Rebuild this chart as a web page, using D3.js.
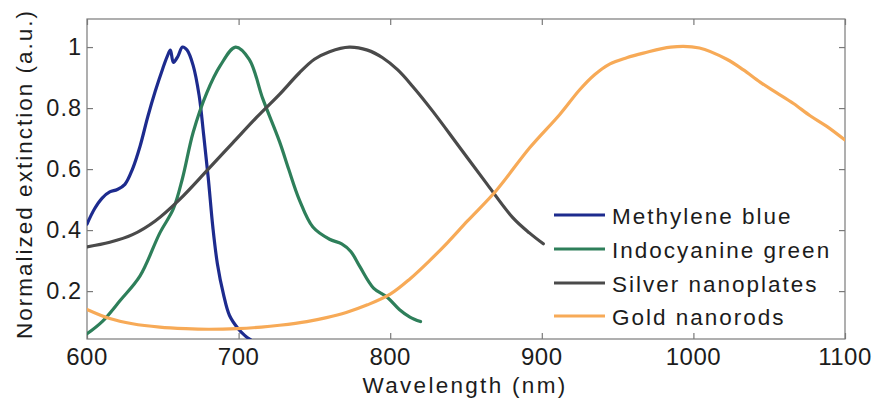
<!DOCTYPE html>
<html>
<head>
<meta charset="utf-8">
<script src="https://cdn.jsdelivr.net/npm/d3@7"></script>
<style>
  html, body { margin: 0; padding: 0; background: #fff; }
  svg text { font-family: "Liberation Sans", Arial, sans-serif; fill: #1c1c1c; }
</style>
</head>
<body>
<svg id="chart" width="877" height="400"></svg>
<script>
// Normalized extinction spectra: [wavelength (nm), extinction (a.u.)]
const methyleneBlue = [
  [600, 0.42], [605, 0.47], [610, 0.505], [615, 0.525], [620, 0.533], [625, 0.55],
  [630, 0.6], [635, 0.675], [640, 0.77], [645, 0.855], [650, 0.93], [653, 0.97],
  [655, 0.99], [657, 0.95], [660, 0.97], [663, 1.0], [666, 0.99], [670, 0.94],
  [674, 0.84], [677, 0.71], [680, 0.57], [683, 0.41], [686, 0.29], [690, 0.19],
  [694, 0.12], [700, 0.075], [704, 0.055], [708, 0.04]
];
const indocyanineGreen = [
  [600, 0.06], [610, 0.1], [622, 0.17], [635, 0.25], [648, 0.39], [657, 0.47],
  [663, 0.57], [670, 0.72], [679, 0.85], [688, 0.94], [698, 1.0], [707, 0.96],
  [716, 0.83], [727, 0.69], [733, 0.6], [740, 0.5], [749, 0.41], [760, 0.37],
  [768, 0.355], [774, 0.33], [780, 0.28], [789, 0.21], [798, 0.18], [806, 0.14],
  [813, 0.115], [820, 0.1]
];
const silverNanoplates = [
  [600, 0.345], [615, 0.36], [630, 0.385], [645, 0.43], [661, 0.5], [680, 0.6],
  [696, 0.685], [712, 0.77], [727, 0.845], [740, 0.915], [750, 0.96], [760, 0.985],
  [773, 1.0], [785, 0.99], [795, 0.965], [805, 0.925], [815, 0.87], [828, 0.79],
  [846, 0.67], [864, 0.55], [881, 0.44], [892, 0.39], [901, 0.355]
];
const goldNanorods = [
  [600, 0.14], [615, 0.11], [630, 0.093], [648, 0.082], [665, 0.077], [680, 0.075],
  [699, 0.077], [715, 0.082], [727, 0.088], [745, 0.1], [758, 0.113], [771, 0.13],
  [785, 0.155], [800, 0.19], [813, 0.24], [826, 0.3], [838, 0.36], [851, 0.43],
  [870, 0.53], [892, 0.67], [912, 0.78], [925, 0.86], [935, 0.91], [945, 0.945],
  [956, 0.965], [967, 0.98], [985, 1.0], [1004, 0.997], [1022, 0.96], [1033, 0.925],
  [1044, 0.885], [1055, 0.85], [1066, 0.815], [1077, 0.775], [1088, 0.74], [1100, 0.695]
];

const seriesNames = ["Methylene blue", "Indocyanine green", "Silver nanoplates", "Gold nanorods"];
const seriesData = [methyleneBlue, indocyanineGreen, silverNanoplates, goldNanorods];
const seriesColors = ["#1d2b8e", "#2e7f5a", "#4a4a4a", "#f7aa57"];

const xTicks = [600, 700, 800, 900, 1000, 1100];
const yTicks = [0.2, 0.4, 0.6, 0.8, 1];
const xTitle = "Wavelength (nm)";
const yTitle = "Normalized extinction (a.u.)";

const svg = d3.select("#chart");
const plotLeft = 87, plotRight = 845, plotTop = 19, plotBottom = 339;

const x = d3.scaleLinear().domain([600, 1100]).range([plotLeft, plotRight]);
const y = d3.scaleLinear().domain([0.043, 1.092]).range([plotBottom, plotTop]);

const axisColor = "#7a7a7a";
const tickLen = 6;

// Plot box
svg.append("rect")
  .attr("x", plotLeft).attr("y", plotTop)
  .attr("width", plotRight - plotLeft).attr("height", plotBottom - plotTop)
  .attr("fill", "none").attr("stroke", axisColor).attr("stroke-width", 1.2);

// Inward ticks on all four sides
function styleAxis(g) {
  g.select(".domain").remove();
  g.selectAll(".tick line").attr("stroke", axisColor).attr("stroke-width", 1.2);
}
svg.append("g").attr("transform", `translate(0,${plotBottom})`)
  .call(d3.axisBottom(x).tickValues(xTicks).tickSize(-tickLen).tickFormat(""))
  .call(styleAxis);
svg.append("g").attr("transform", `translate(0,${plotTop})`)
  .call(d3.axisTop(x).tickValues(xTicks).tickSize(-tickLen).tickFormat(""))
  .call(styleAxis);
svg.append("g").attr("transform", `translate(${plotLeft},0)`)
  .call(d3.axisLeft(y).tickValues(yTicks).tickSize(-tickLen).tickFormat(""))
  .call(styleAxis);
svg.append("g").attr("transform", `translate(${plotRight},0)`)
  .call(d3.axisRight(y).tickValues(yTicks).tickSize(-tickLen).tickFormat(""))
  .call(styleAxis);

// Tick labels
svg.append("g").selectAll("text").data(xTicks).join("text")
  .attr("x", d => x(d)).attr("y", 365)
  .attr("text-anchor", "middle")
  .style("font-size", "24px").style("letter-spacing", "0.5px")
  .text(d => d);
svg.append("g").selectAll("text").data(yTicks).join("text")
  .attr("x", 82).attr("y", d => y(d))
  .attr("dy", "0.35em")
  .attr("text-anchor", "end")
  .style("font-size", "23.5px").style("letter-spacing", "1px")
  .text(d => d3.format("~g")(d));

// Axis titles
svg.append("text")
  .attr("x", 465).attr("y", 393)
  .attr("text-anchor", "middle")
  .style("font-size", "22.5px").style("letter-spacing", "2.3px")
  .text(xTitle);
svg.append("text")
  .attr("transform", "translate(32,174) rotate(-90)")
  .attr("text-anchor", "middle")
  .style("font-size", "22.5px").style("letter-spacing", "2px")
  .text(yTitle);

// Spectra
const line = d3.line()
  .x(d => x(d[0])).y(d => y(d[1]))
  .curve(d3.curveCatmullRom.alpha(0.5));

svg.append("defs").append("clipPath").attr("id", "plotClip")
  .append("rect").attr("x", plotLeft).attr("y", plotTop)
  .attr("width", plotRight - plotLeft).attr("height", plotBottom - plotTop);

svg.append("g").attr("clip-path", "url(#plotClip)")
  .selectAll("path").data(seriesData).join("path")
  .attr("d", line)
  .attr("fill", "none")
  .attr("stroke", (d, i) => seriesColors[i])
  .attr("stroke-width", 3.2)
  .attr("stroke-linejoin", "round")
  .attr("stroke-linecap", "round");

// Legend
const legend = svg.append("g");
const legendRows = [215, 249, 283, 316];
seriesNames.forEach((name, i) => {
  legend.append("line")
    .attr("x1", 554).attr("x2", 605)
    .attr("y1", legendRows[i]).attr("y2", legendRows[i])
    .attr("stroke", seriesColors[i]).attr("stroke-width", 3.2);
  legend.append("text")
    .attr("x", 612).attr("y", legendRows[i])
    .attr("dy", "0.38em")
    .style("font-size", "22.5px").style("letter-spacing", "2px")
    .text(name);
});
</script>
</body>
</html>
